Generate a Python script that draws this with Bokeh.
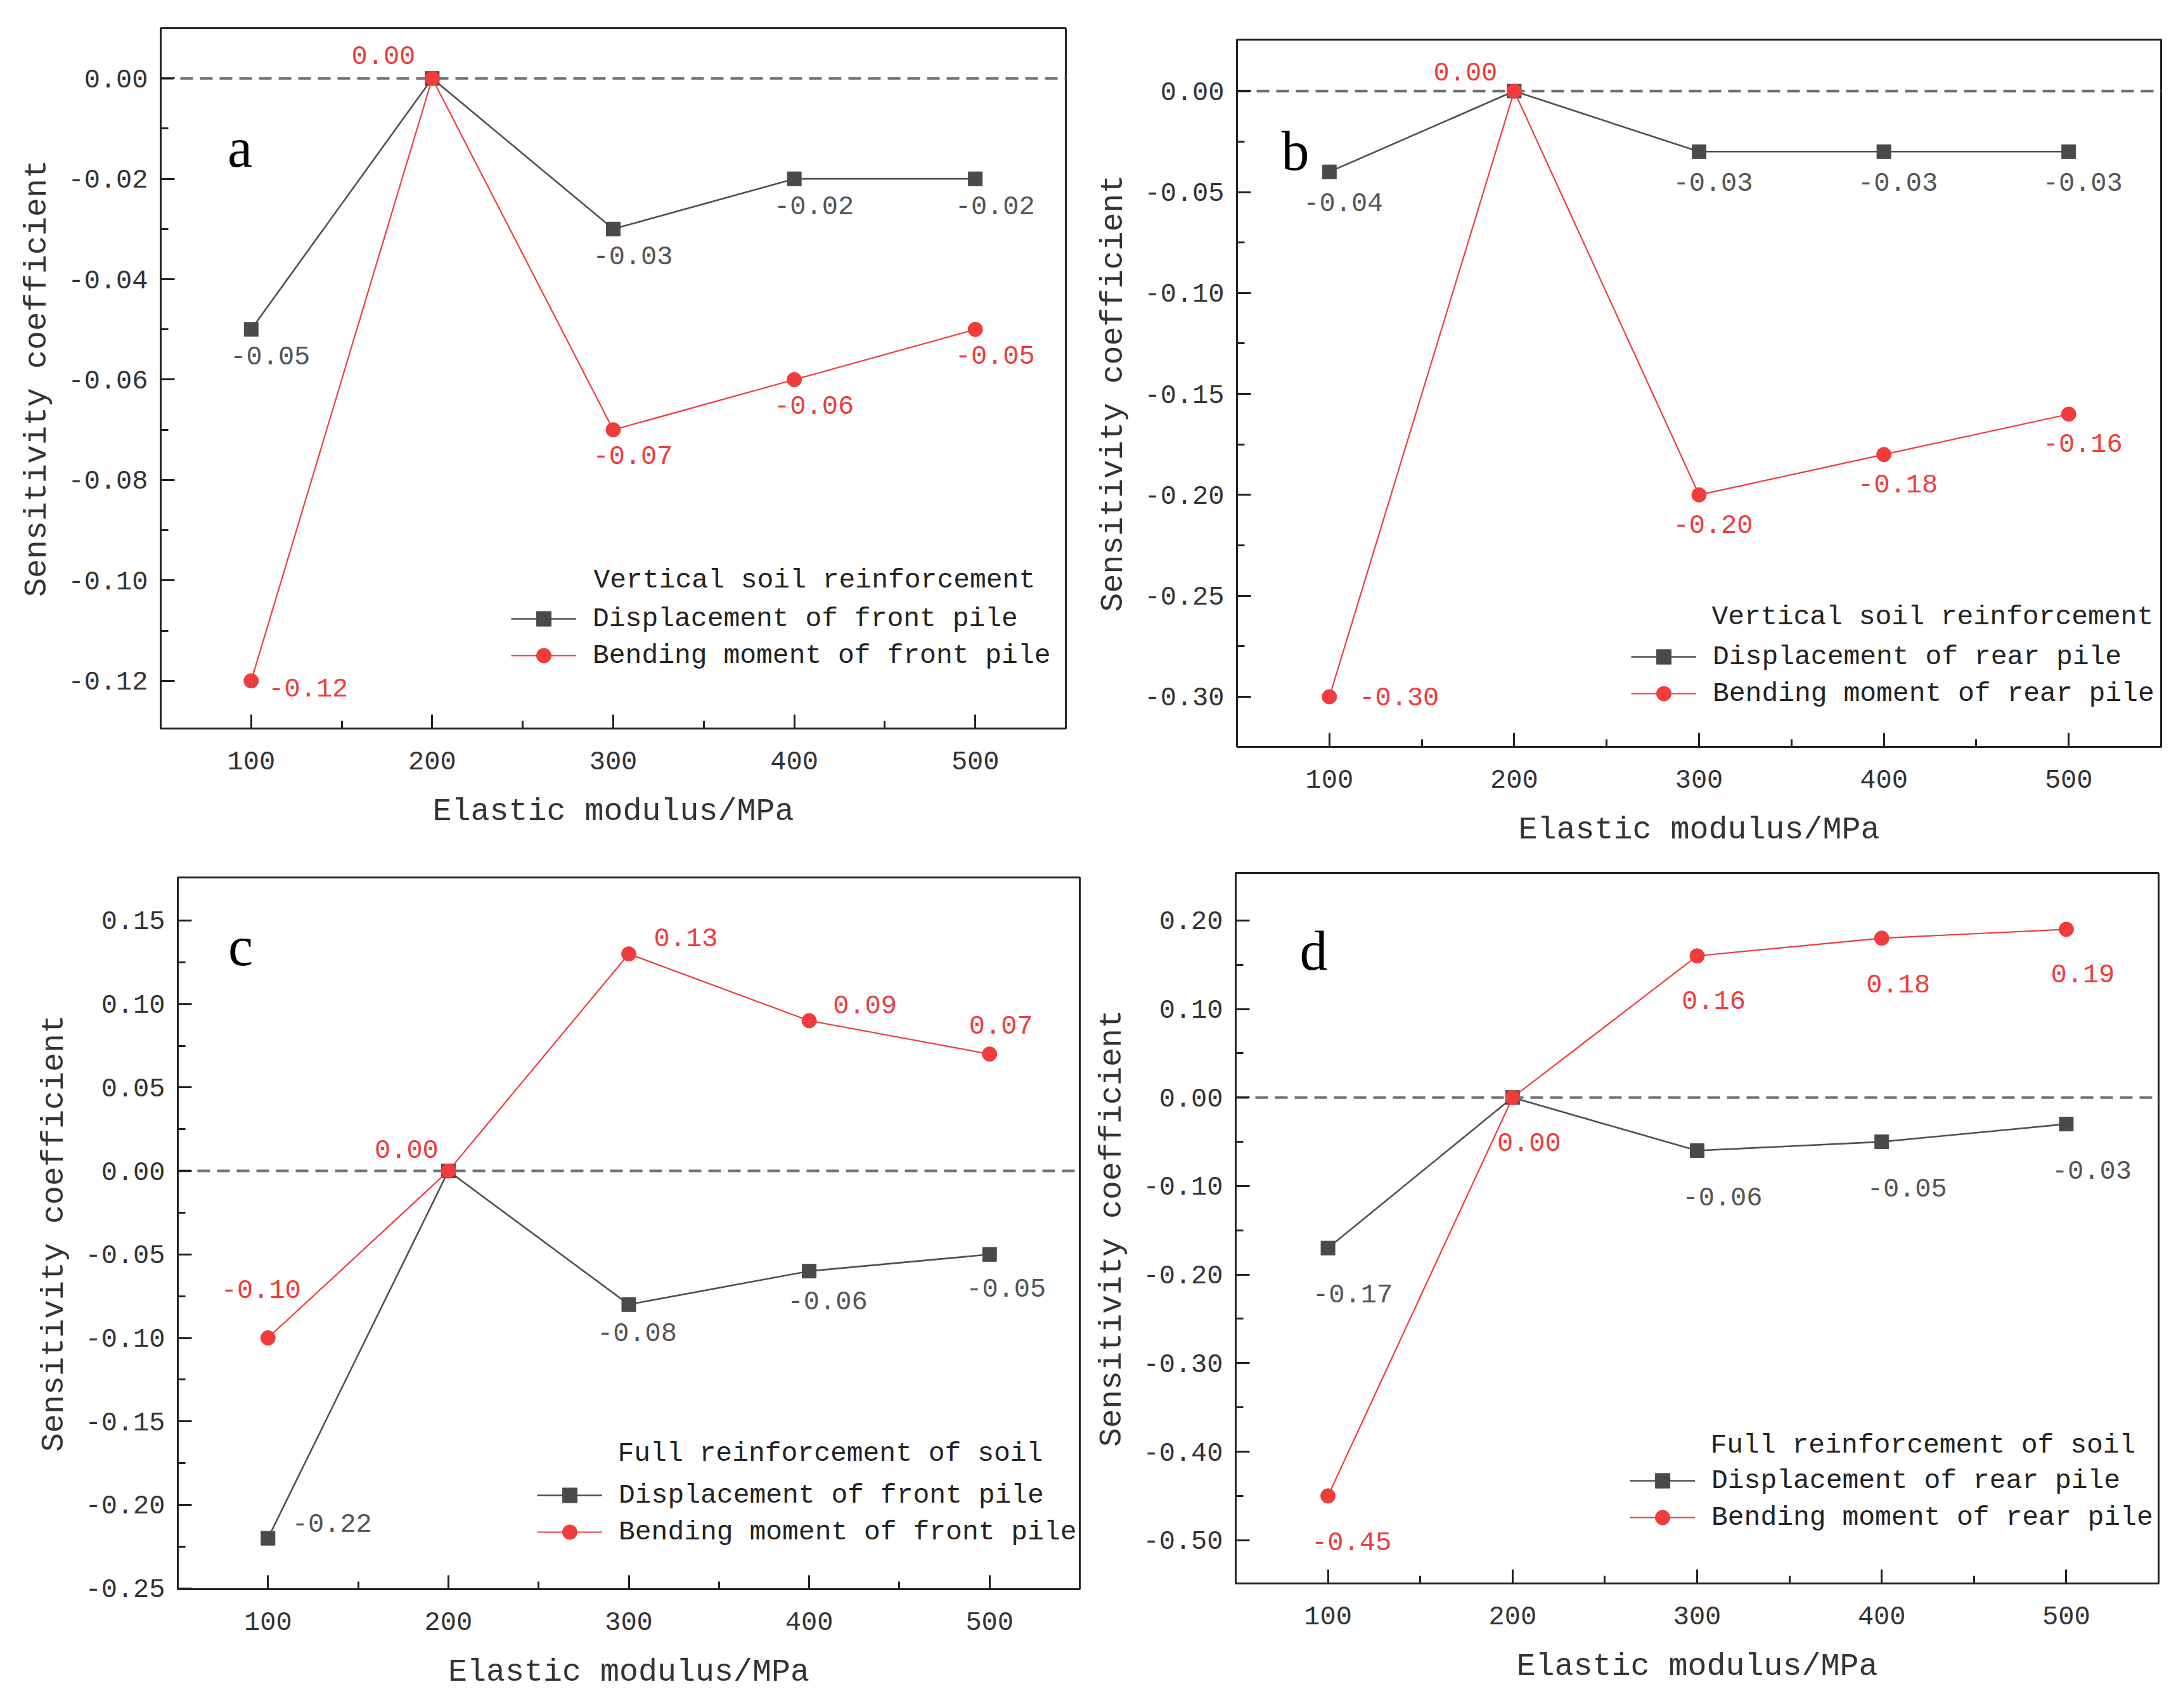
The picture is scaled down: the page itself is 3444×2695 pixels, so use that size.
from bokeh.plotting import figure
from bokeh.models import ColumnDataSource, FixedTicker, Span, Label, Legend, LegendItem, Range1d, NumeralTickFormatter
from bokeh.layouts import row, column
from bokeh.core.properties import value
from bokeh.embed import file_html
from bokeh.resources import INLINE

# ---- data ----
modulus = [100, 200, 300, 400, 500]
x_ticks = [100, 200, 300, 400, 500]
x_minor = [150, 250, 350, 450]

# a: vertical soil reinforcement, front pile
disp_front_vert = [-0.05, 0.00, -0.03, -0.02, -0.02]
bend_front_vert = [-0.12, 0.00, -0.07, -0.06, -0.05]
# b: vertical soil reinforcement, rear pile
disp_rear_vert = [-0.04, 0.00, -0.03, -0.03, -0.03]
bend_rear_vert = [-0.30, 0.00, -0.20, -0.18, -0.16]
# c: full reinforcement, front pile
disp_front_full = [-0.22, 0.00, -0.08, -0.06, -0.05]
bend_front_full = [-0.10, 0.00, 0.13, 0.09, 0.07]
# d: full reinforcement, rear pile
disp_rear_full = [-0.17, 0.00, -0.06, -0.05, -0.03]
bend_rear_full = [-0.45, 0.00, 0.16, 0.18, 0.19]

y_ticks_a = [-0.12, -0.10, -0.08, -0.06, -0.04, -0.02, 0.00]
y_minor_a = [-0.11, -0.09, -0.07, -0.05, -0.03, -0.01]
y_ticks_b = [-0.30, -0.25, -0.20, -0.15, -0.10, -0.05, 0.00]
y_minor_b = [-0.275, -0.225, -0.175, -0.125, -0.075, -0.025]
y_ticks_c = [-0.25, -0.20, -0.15, -0.10, -0.05, 0.00, 0.05, 0.10, 0.15]
y_minor_c = [-0.225, -0.175, -0.125, -0.075, -0.025, 0.025, 0.075, 0.125]
y_ticks_d = [-0.50, -0.40, -0.30, -0.20, -0.10, 0.00, 0.10, 0.20]
y_minor_d = [-0.45, -0.35, -0.25, -0.15, -0.05, 0.05, 0.15]

MONO = "Liberation Mono"
GRAY = "#505050"
GRAY_TXT = "#555555"
RED = "#f03c3c"


def make_panel(cfg):
    p = figure(frame_width=cfg["fw"], frame_height=cfg["fh"],
               min_border_left=cfg["bl"], min_border_right=cfg["br"],
               min_border_top=cfg["bt"], min_border_bottom=cfg["bb"],
               x_range=Range1d(50, 550), y_range=Range1d(*cfg["yr"]),
               output_backend="svg", toolbar_location=None,
               background_fill_color="white", border_fill_color="white")
    p.frame_align = False
    p.grid.visible = False
    p.outline_line_color = "#222222"
    p.outline_line_width = 3

    p.xaxis.ticker = FixedTicker(ticks=x_ticks, minor_ticks=x_minor)
    p.yaxis.ticker = FixedTicker(ticks=cfg["yt"], minor_ticks=cfg["ym"])
    p.yaxis.formatter = NumeralTickFormatter(format="0.00")
    for ax in (p.xaxis, p.yaxis):
        ax.axis_line_width = 3
        ax.axis_line_color = "#222222"
        ax.major_tick_in = 22
        ax.major_tick_out = 0
        ax.minor_tick_in = 12
        ax.minor_tick_out = 0
        ax.major_tick_line_width = 3
        ax.minor_tick_line_width = 3
        ax.major_tick_line_color = "#222222"
        ax.minor_tick_line_color = "#222222"
        ax.major_label_text_font = MONO
        ax.major_label_text_font_size = "42px"
        ax.major_label_text_color = "#333333"
        ax.axis_label_text_font = MONO
        ax.axis_label_text_font_size = "50px"
        ax.axis_label_text_font_style = "normal"
        ax.axis_label_text_color = "#333333"
    p.xaxis.axis_label = "Elastic modulus/MPa"
    p.yaxis.axis_label = "Sensitivity coefficient"
    p.xaxis.major_label_standoff = 36
    p.xaxis.axis_label_standoff = 35
    p.yaxis.major_label_standoff = 20
    p.yaxis.axis_label_standoff = 17

    p.add_layout(Span(location=0, dimension="width", line_color="#707070",
                      line_width=4, line_dash="20 11", level="underlay"))

    disp, bend = cfg["disp"], cfg["bend"]
    l1 = p.line(modulus, disp, line_color=GRAY, line_width=2.6)
    m1 = p.scatter(modulus, disp, marker="square", size=22, fill_color="#4a4a4a", line_color="#4a4a4a")
    l2 = p.line(modulus, bend, line_color=RED, line_width=2.2)
    m2 = p.scatter(modulus, bend, marker="circle", size=23, fill_color=RED, line_color=RED)

    # value labels
    dx, dy, dt = [], [], []
    for i, v in enumerate(disp):
        if i in cfg["disp_skip"]:
            continue
        dx.append(modulus[i]); dy.append(v); dt.append(f"{v:.2f}")
    src_d = ColumnDataSource(dict(x=dx, y=dy, t=dt,
                                  xo=[o[0] for o in cfg["disp_off"]],
                                  yo=[o[1] for o in cfg["disp_off"]]))
    p.text(x="x", y="y", text="t", x_offset="xo", y_offset="yo", source=src_d,
           text_font=value(MONO), text_font_size="42px", text_color=GRAY_TXT,
           text_align="center", text_baseline="middle")
    src_b = ColumnDataSource(dict(x=modulus, y=bend, t=[f"{v:.2f}" for v in bend],
                                  xo=[o[0] for o in cfg["bend_off"]],
                                  yo=[o[1] for o in cfg["bend_off"]]))
    p.text(x="x", y="y", text="t", x_offset="xo", y_offset="yo", source=src_b,
           text_font=value(MONO), text_font_size="42px", text_color=RED,
           text_align="center", text_baseline="middle")

    # legend
    lx, ly = cfg["leg"]
    legend = Legend(items=[LegendItem(label=cfg["disp_name"], renderers=[l1, m1]),
                           LegendItem(label=cfg["bend_name"], renderers=[l2, m2])],
                    location=(lx, ly), padding=0, margin=0, spacing=0,
                    glyph_width=103, glyph_height=58, label_height=58,
                    label_standoff=26, border_line_alpha=0, background_fill_alpha=0,
                    label_text_font=MONO, label_text_font_size="43px",
                    label_text_color="#222222")
    p.add_layout(legend)
    tx, ty = cfg["title_pos"]
    p.add_layout(Label(x=tx, y=ty, x_units="screen", y_units="screen",
                       text=cfg["title"], text_font=MONO, text_font_size="43px",
                       text_color="#222222", text_baseline="middle"))
    lx2, ly2 = cfg["letter_pos"]
    p.add_layout(Label(x=lx2, y=ly2, x_units="screen", y_units="screen",
                       text=cfg["letter"], text_font="Liberation Serif", text_font_size="88px",
                       text_color="black", text_align="center", text_baseline="middle"))
    return p


pa = make_panel(dict(
    fw=1428, fh=1105, bl=253, br=31, bt=44, bb=209, yr=(-0.1295, 0.0100),
    yt=y_ticks_a, ym=y_minor_a, disp=disp_front_vert, bend=bend_front_vert,
    disp_skip=[1], disp_off=[(30, 41), (31, 42), (31, 42), (31, 42)],
    bend_off=[(90, 11), (-77, -37), (31, 40), (31, 40), (31, 40)],
    disp_name="Displacement of front pile", bend_name="Bending moment of front pile",
    title="Vertical soil reinforcement", leg=(553, 86), title_pos=(683, 234),
    letter="a", letter_pos=(125, 916)))

pb = make_panel(dict(
    fw=1458, fh=1116, bl=239, br=11, bt=62, bb=180, yr=(-0.3248, 0.0255),
    yt=y_ticks_b, ym=y_minor_b, disp=disp_rear_vert, bend=bend_rear_vert,
    disp_skip=[1], disp_off=[(22, 48), (22, 48), (22, 48), (22, 48)],
    bend_off=[(110, 0), (-77, -31), (22, 46), (22, 46), (22, 46)],
    disp_name="Displacement of rear pile", bend_name="Bending moment of rear pile",
    title="Vertical soil reinforcement", leg=(622, 55), title_pos=(749, 205),
    letter="b", letter_pos=(92, 940)))

pc = make_panel(dict(
    fw=1423, fh=1123, bl=280, br=7, bt=26, bb=180, yr=(-0.2505, 0.1758),
    yt=y_ticks_c, ym=y_minor_c, disp=disp_front_full, bend=bend_front_full,
    disp_skip=[1], disp_off=[(101, -24), (13, 44), (29, 46), (26, 53)],
    bend_off=[(-11, -77), (-66, -35), (90, -26), (88, -26), (18, -46)],
    disp_name="Displacement of front pile", bend_name="Bending moment of front pile",
    title="Full reinforcement of soil", leg=(567, 61), title_pos=(694, 214),
    letter="c", letter_pos=(99, 1014)))

pd_ = make_panel(dict(
    fw=1456, fh=1121, bl=239, br=11, bt=19, bb=189, yr=(-0.5489, 0.2536),
    yt=y_ticks_d, ym=y_minor_d, disp=disp_rear_full, bend=bend_rear_full,
    disp_skip=[1], disp_off=[(39, 72), (40, 72), (40, 72), (40, 72)],
    bend_off=[(37, 72), (26, 70), (26, 70), (26, 72), (26, 70)],
    disp_name="Displacement of rear pile", bend_name="Bending moment of rear pile",
    title="Full reinforcement of soil", leg=(622, 75), title_pos=(749, 218),
    letter="d", letter_pos=(123, 998)))

layout = column(row(pa, pb), row(pc, pd_))
open("out.html", "w").write(file_html(layout, INLINE))
